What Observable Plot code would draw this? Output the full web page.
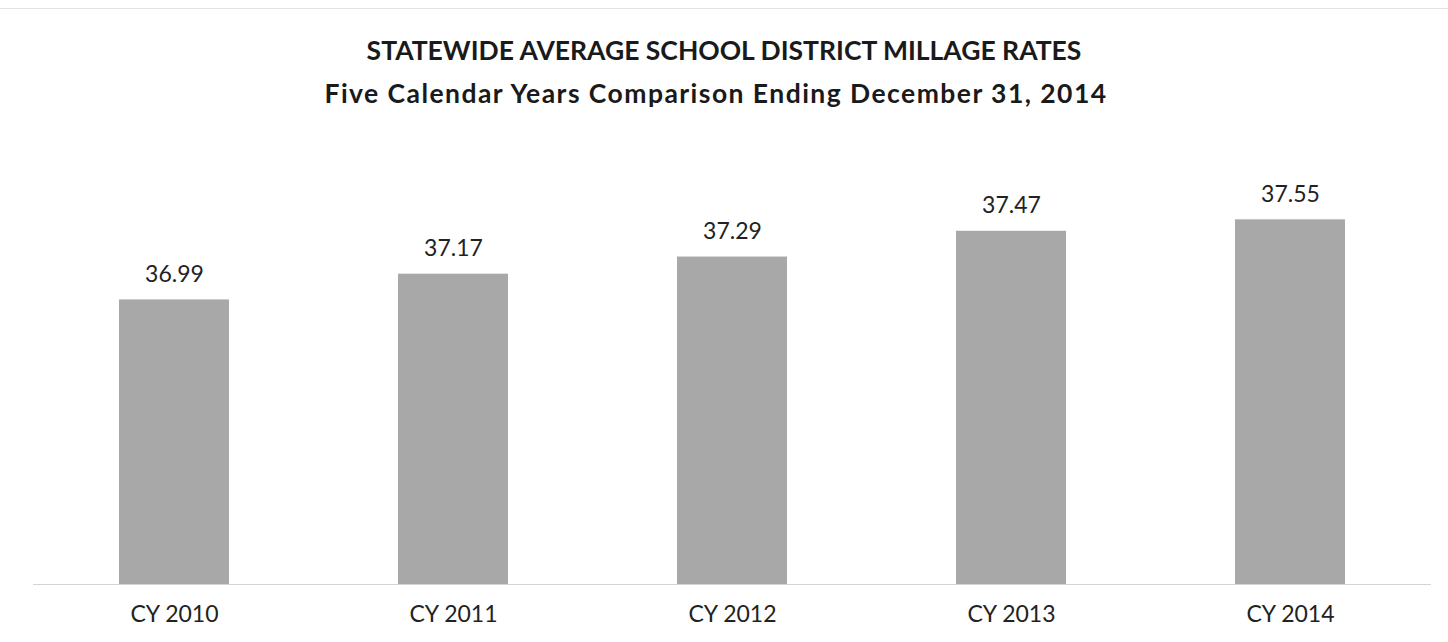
<!DOCTYPE html>
<html>
<head>
<meta charset="utf-8">
<script src="https://cdn.jsdelivr.net/npm/d3@7"></script>
<script src="https://cdn.jsdelivr.net/npm/@observablehq/plot@0.6"></script>
<style>
  html, body { margin: 0; padding: 0; background: #fff; }
  body { width: 1448px; height: 642px; overflow: hidden; font-family: Lato, "Open Sans", sans-serif; }
  #frame { position: relative; width: 1448px; height: 642px; border-top: 1px solid #e2e2e2; box-sizing: border-box; margin-top: 8px; }
  #title { position: absolute; top: 20px; left: 0; width: 1448px; text-align: center; color: #1a1a1a; font-weight: bold; font-size: 26.5px; line-height: 43px; }
  #title .l2 { letter-spacing: 1.45px; margin-right: 16px; }
  #chart { position: absolute; top: 122px; left: 0; }
</style>
</head>
<body>
<div id="frame">
  <div id="title"><div class="l1">STATEWIDE AVERAGE SCHOOL DISTRICT MILLAGE RATES</div><div class="l2">Five Calendar Years Comparison Ending December 31, 2014</div></div>
  <div id="chart"></div>
</div>
<script>
const years = ["CY 2010", "CY 2011", "CY 2012", "CY 2013", "CY 2014"];
const rates = [36.99, 37.17, 37.29, 37.47, 37.55];

const data = years.map((y, i) => ({year: y, rate: rates[i]}));

const chart = Plot.plot({
  width: 1448,
  height: 512,
  marginLeft: 33,
  marginRight: 17,
  marginTop: 24,
  marginBottom: 59,
  style: {fontFamily: "Lato, 'Open Sans', sans-serif", color: "#222", background: "transparent"},
  x: {domain: years, paddingInner: 0.607, paddingOuter: 0.3035, label: null},
  y: {domain: [35, 38], axis: null},
  marks: [
    Plot.barY(data, {x: "year", y1: 35, y2: "rate", fill: "#a8a8a8"}),
    Plot.ruleY([35], {stroke: "#d4d4d4", strokeWidth: 1.2}),
    Plot.text(data, {x: "year", y: "rate", text: d => d.rate.toFixed(2), lineAnchor: "bottom", dy: -18, fontSize: 23, fill: "#222"}),
    Plot.axisX({tickSize: 0, tickPadding: 21, fontSize: 23, fill: "#222", label: null})
  ]
});
document.getElementById("chart").appendChild(chart);
</script>
</body>
</html>
